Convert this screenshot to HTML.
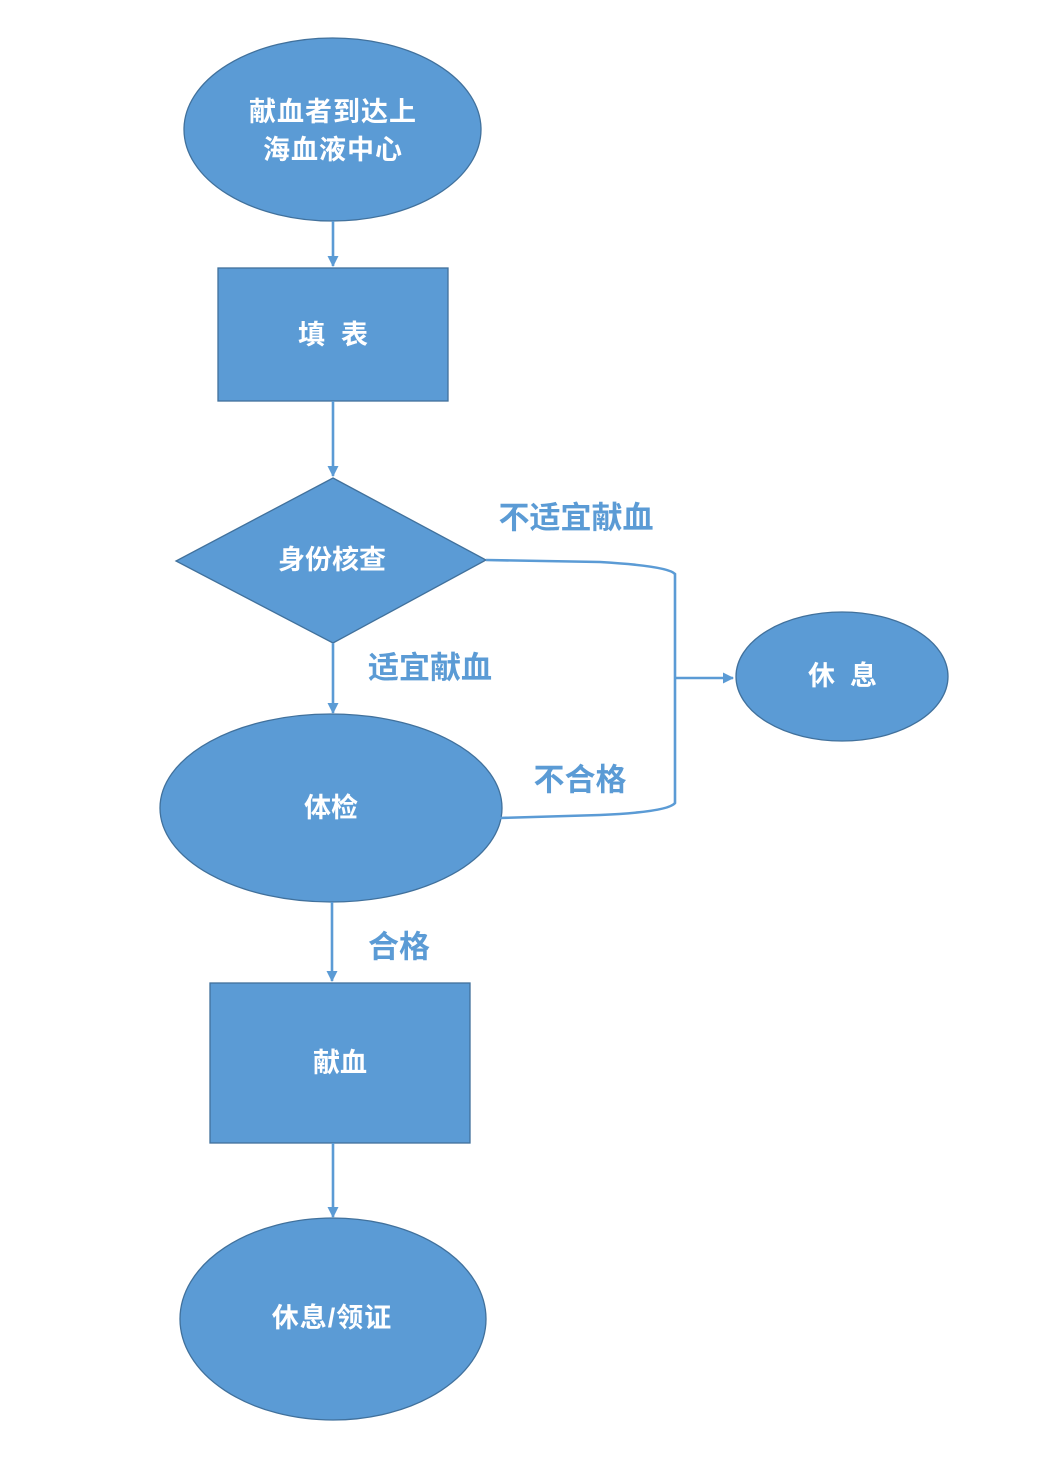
<!DOCTYPE html>
<html>
<head>
<meta charset="utf-8">
<style>
html,body{margin:0;padding:0;background:#ffffff;}
svg{display:block;}
.in{font-family:"Liberation Sans","Noto Sans CJK SC",sans-serif;font-weight:bold;fill:#ffffff;font-size:27px;}
.lb{font-family:"Liberation Sans","Noto Sans CJK SC",sans-serif;font-weight:bold;fill:#5B9BD5;font-size:31px;}
</style>
</head>
<body>
<svg width="1064" height="1484" viewBox="0 0 1064 1484" xmlns="http://www.w3.org/2000/svg">
<defs>
<marker id="ah" markerWidth="13" markerHeight="13" refX="10" refY="5.5" orient="auto" markerUnits="userSpaceOnUse">
<path d="M0,0 L11,5.5 L0,11 Z" fill="#5B9BD5"/>
</marker>
</defs>
<g fill="#5B9BD5" stroke="#41719C" stroke-width="1.3">
<ellipse cx="332.5" cy="129.5" rx="148.5" ry="91.5"/>
<rect x="218" y="268" width="230" height="133"/>
<polygon points="333,478 486,560 333,643 176,561"/>
<ellipse cx="842" cy="676.5" rx="106" ry="64.5"/>
<ellipse cx="331" cy="808" rx="171" ry="94"/>
<rect x="210" y="983" width="260" height="160"/>
<ellipse cx="333" cy="1319" rx="153" ry="101"/>
</g>
<g stroke="#5B9BD5" stroke-width="2.6" fill="none">
<line x1="333" y1="221" x2="333" y2="266" marker-end="url(#ah)"/>
<line x1="333" y1="401" x2="333" y2="476" marker-end="url(#ah)"/>
<line x1="333" y1="643" x2="333" y2="713" marker-end="url(#ah)"/>
<line x1="332" y1="902" x2="332" y2="981" marker-end="url(#ah)"/>
<line x1="333" y1="1143" x2="333" y2="1217" marker-end="url(#ah)"/>
<path d="M486,560 L600,562 Q668,566 675,574 L675,803 Q668,812 600,815 L500,818"/>
<line x1="675" y1="678" x2="733" y2="678" marker-end="url(#ah)"/>
</g>
<g text-anchor="middle" dominant-baseline="central">
<text class="in" x="333" y="112" letter-spacing="1">献血者到达上</text>
<text class="in" x="333" y="150" letter-spacing="1">海血液中心</text>
<text class="in" x="311.5" y="335">填</text>
<text class="in" x="354.5" y="335">表</text>
<text class="in" x="332" y="560">身份核查</text>
<text class="in" x="821.5" y="676">休</text>
<text class="in" x="863.5" y="676">息</text>
<text class="in" x="331" y="808">体检</text>
<text class="in" x="340" y="1063">献血</text>
<text class="in" x="332" y="1318" font-size="28" letter-spacing="1">休息/领证</text>
<text class="lb" x="576" y="518">不适宜献血</text>
<text class="lb" x="430" y="668">适宜献血</text>
<text class="lb" x="580" y="780">不合格</text>
<text class="lb" x="399" y="947">合格</text>
</g>
</svg>
</body>
</html>
